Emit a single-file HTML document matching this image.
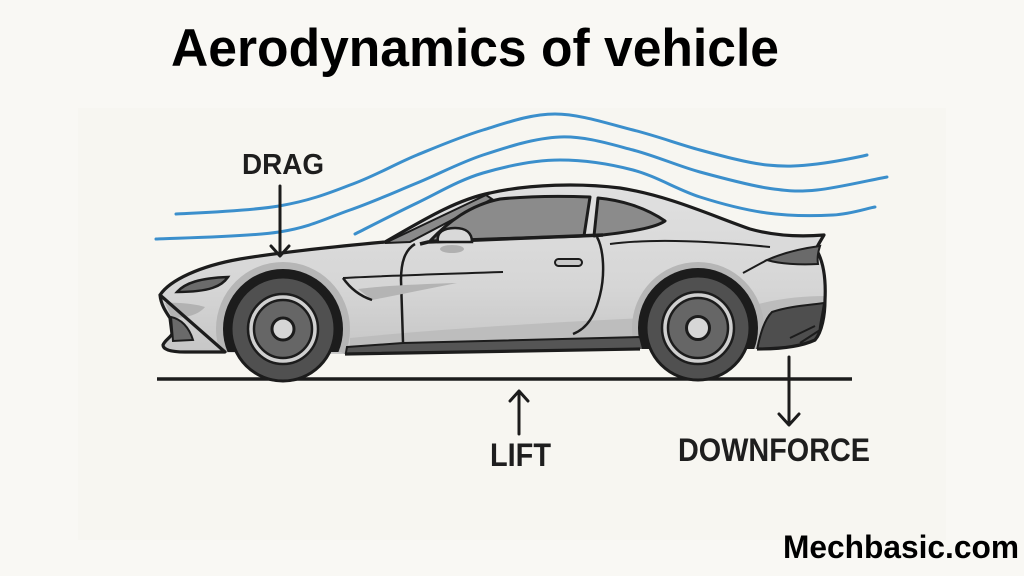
<!DOCTYPE html>
<html>
<head>
<meta charset="utf-8">
<style>
  html, body { margin: 0; padding: 0; }
  body { width: 1024px; height: 576px; background: #f9f8f4; overflow: hidden; }
  svg { display: block; }
</style>
</head>
<body>
<svg width="1024" height="576" viewBox="0 0 1024 576" xmlns="http://www.w3.org/2000/svg">
  <defs>
    <clipPath id="fullclip">
      <path d="M160,295 C170,280 200,266 240,259 C270,254 320,248 385,242 C420,222 455,200 490,193 C530,184 580,183 620,188 C670,196 710,215 750,229 C775,236 800,237 824,235 C821,240 818,245 816,249 C824,262 826,280 825,300 C825,315 822,332 815,340 C800,347 780,349 757,349 L640,349 L345,354 L341,352 L225,352 L185,352 C172,352 163,350 163,345 C165,340 170,338 172,334 L170,318 C166,312 161,305 160,295 Z"/>
    </clipPath>
    <linearGradient id="bodyg" x1="0" y1="0" x2="0" y2="1">
      <stop offset="0" stop-color="#e0e0e0"/>
      <stop offset="0.6" stop-color="#d6d6d6"/>
      <stop offset="1" stop-color="#c6c6c6"/>
    </linearGradient>
  </defs>

  <rect x="0" y="0" width="1024" height="576" fill="#f9f8f4"/>
  <rect x="78" y="108" width="868" height="432" fill="#f7f6f1"/>

  <!-- Title -->
  <text x="171" y="66" font-family="Liberation Sans, sans-serif" font-weight="bold" font-size="53" fill="#000" textLength="608" lengthAdjust="spacingAndGlyphs">Aerodynamics of vehicle</text>

  <!-- Streamlines -->
  <g fill="none" stroke="#3b8fcc" stroke-width="3" stroke-linecap="round">
    <path d="M176,214 C193,213 250,211 279,206 C308,201 327,194 350,185 C373,177 395,164 417,155 C439,146 460,137 483,130 C506,123 530,114 555,114 C580,114 609,124 633,130 C657,136 678,144 700,150 C722,156 748,163 767,165 C787,167 800,166 817,164 C834,162 859,157 867,155"/>
    <path d="M156,239 C176,238 247,237 279,232 C311,227 327,218 350,210 C373,202 395,192 417,183 C439,174 459,163 483,155 C507,147 535,138 560,137 C585,136 610,144 633,150 C656,156 678,166 700,172 C722,178 748,185 767,188 C787,191 797,192 817,190 C837,188 875,179 887,177"/>
    <path d="M355,234 C365,229 396,213 417,203 C438,193 459,180 483,173 C507,166 535,160 560,160 C585,160 610,164 633,170 C656,176 678,190 700,197 C722,204 745,210 767,213 C789,216 815,216 833,215 C851,214 868,208 875,207"/>
  </g>

  <!-- Ground -->
  <line x1="157" y1="379" x2="852" y2="379" stroke="#1c1c1c" stroke-width="3.5"/>

  <!-- Car body -->
  <path d="M160,295 C170,280 200,266 240,259 C270,254 320,248 385,242 C420,222 455,200 490,193 C530,184 580,183 620,188 C670,196 710,215 750,229 C775,236 800,237 824,235 C821,240 818,245 816,249 C824,262 826,280 825,300 C825,315 822,332 815,340 C800,347 780,349 757,349 L640,349 L345,354 L185,352 C172,352 163,350 163,345 C165,340 170,338 172,334 L170,318 C166,312 161,305 160,295 Z" fill="url(#bodyg)"/>

  <g clip-path="url(#fullclip)">
    <!-- lower shading between wheels -->
    <path d="M350,338 C450,328 560,322 645,318 L645,345 L350,350 Z" fill="#bdbdbd"/>
    <!-- rear bumper shading -->
    <path d="M755,305 C780,298 805,296 826,296 L826,345 L755,350 Z" fill="#bcbcbc"/>
    <!-- front lower shade -->
    <path d="M165,303 C180,302 195,304 205,307 C200,313 190,318 172,318 Z" fill="#b2b2b2"/>
    <!-- arch shadows -->
    <circle cx="283" cy="329" r="67" fill="#b6b6b6"/>
    <circle cx="698" cy="328" r="66" fill="#b6b6b6"/>
    <!-- arch black bands -->
    <circle cx="283" cy="329" r="60" fill="#1c1c1c"/>
    <circle cx="698" cy="328" r="60" fill="#1c1c1c"/>
    <!-- side skirt -->
    <path d="M347,347 L403,343 C500,341 580,339 640,337 L645,356 L345,358 Z" fill="#555" stroke="#1c1c1c" stroke-width="2"/>
    <!-- diffuser -->
    <path d="M772,312 C790,306 810,305 824,303 C822,318 818,330 820,338 L800,346 L757,350 C760,335 764,320 772,312 Z" fill="#4e4e4e" stroke="#1c1c1c" stroke-width="2"/>
    <path d="M790,338 L815,326 M800,343 L820,330" stroke="#1c1c1c" stroke-width="2" fill="none"/>
  </g>

  <!-- body outline -->
  <path d="M160,295 C170,280 200,266 240,259 C270,254 320,248 385,242 C420,222 455,200 490,193 C530,184 580,183 620,188 C670,196 710,215 750,229 C775,236 800,237 824,235 C821,240 818,245 816,249 C824,262 826,280 825,300 C825,315 822,332 815,340 C800,347 780,349 757,349 M640,349 L345,354 M225,352 L185,352 C172,352 163,350 163,345 C165,340 170,338 172,334 L170,318 C166,312 161,305 160,295 Z" fill="none" stroke="#1c1c1c" stroke-width="3.2" stroke-linejoin="round"/>

  <!-- grille -->
  <path d="M171,317 C181,319 189,327 193,340 L173,341 Z" fill="#6a6a6a" stroke="#1c1c1c" stroke-width="2"/>
  <!-- headlight -->
  <path d="M177,292 C185,283 200,278 228,277 C222,286 210,292 177,292 Z" fill="#6b6b6b" stroke="#1c1c1c" stroke-width="2.5"/>

  <!-- windshield -->
  <path d="M385,243 L410,242 L492,199 L486,195 Z" fill="#8a8a8a" stroke="#1c1c1c" stroke-width="2"/>
  <!-- front side window -->
  <path d="M430,241 C448,222 470,205 500,199 C530,196 565,196 590,197 L584,236 Z" fill="#8b8b8b" stroke="#1c1c1c" stroke-width="3" stroke-linejoin="round"/>
  <!-- rear quarter window -->
  <path d="M598,198 C620,200 645,207 665,221 C655,228 630,232 594,236 Z" fill="#8b8b8b" stroke="#1c1c1c" stroke-width="3" stroke-linejoin="round"/>
  <!-- belt line -->
  <path d="M420,244 L428,242 L603,235" fill="none" stroke="#1c1c1c" stroke-width="3.5"/>
  <!-- mirror -->
  <ellipse cx="452" cy="249" rx="12" ry="4" fill="#b0b0b0"/>
  <path d="M438,242 C436,232 444,228 455,228 C466,228 472,233 472,242 Z" fill="#d9d9d9" stroke="#1c1c1c" stroke-width="2.5"/>

  <!-- door lines -->
  <path d="M415,244 C405,250 401,262 401,280 L403,342" fill="none" stroke="#1c1c1c" stroke-width="2.5"/>
  <path d="M597,237 C604,250 605,275 600,295 C595,315 588,328 573,334" fill="none" stroke="#1c1c1c" stroke-width="2.5"/>
  <!-- door handle -->
  <rect x="555" y="259" width="27" height="7" rx="3.5" fill="#c9c9c9" stroke="#1c1c1c" stroke-width="2"/>

  <!-- character line and vent -->
  <path d="M343,278 C380,276 440,274 503,272" fill="none" stroke="#1c1c1c" stroke-width="2"/>
  <path d="M358,289 C380,286 420,284 457,283 L372,300 Z" fill="#b4b4b4"/>
  <path d="M343,278 C350,288 360,296 372,300" fill="none" stroke="#1c1c1c" stroke-width="2.5"/>
  <!-- rear haunch line -->
  <path d="M610,244 C640,240 690,239 770,247" fill="none" stroke="#1c1c1c" stroke-width="2"/>
  <!-- tail light -->
  <path d="M767,260 C785,252 805,248 820,246 C818,252 817,258 818,264 C800,265 780,264 767,260 Z" fill="#6a6a6a" stroke="#1c1c1c" stroke-width="2"/>
  <path d="M767,260 L743,273" stroke="#1c1c1c" stroke-width="2" fill="none"/>

  <!-- wheels -->
  <g stroke="#1c1c1c">
    <circle cx="283" cy="329" r="52" fill="#505050" stroke-width="3"/>
    <circle cx="283" cy="329" r="35" fill="#cfcfcf" stroke-width="2.5"/>
    <circle cx="283" cy="329" r="29" fill="#666" stroke-width="2.5"/>
    <circle cx="283" cy="329" r="11" fill="#d6d6d6" stroke-width="3"/>

    <circle cx="698" cy="328" r="52" fill="#505050" stroke-width="3"/>
    <circle cx="698" cy="328" r="36" fill="#cfcfcf" stroke-width="2.5"/>
    <circle cx="698" cy="328" r="30" fill="#666" stroke-width="2.5"/>
    <circle cx="698" cy="328" r="11.5" fill="#d6d6d6" stroke-width="3"/>
  </g>

  <!-- arrows -->
  <g fill="none" stroke="#1c1c1c" stroke-width="3" stroke-linecap="round" stroke-linejoin="round">
    <line x1="280" y1="186" x2="280" y2="255"/>
    <polyline points="271,246 280,256 289,246"/>
    <line x1="519" y1="392" x2="519" y2="434"/>
    <polyline points="510,401 519,391 528,401"/>
    <line x1="789" y1="357" x2="789" y2="424"/>
    <polyline points="779,414 789,425 799,414"/>
  </g>

  <!-- labels -->
  <g font-family="Liberation Sans, sans-serif" font-weight="bold" fill="#1e1e1e">
    <text x="242" y="174" font-size="29" textLength="82" lengthAdjust="spacingAndGlyphs">DRAG</text>
    <text x="490" y="466" font-size="32" textLength="61" lengthAdjust="spacingAndGlyphs">LIFT</text>
    <text x="678" y="461" font-size="32" textLength="192" lengthAdjust="spacingAndGlyphs">DOWNFORCE</text>
  </g>
  <text x="783" y="558" font-family="Liberation Sans, sans-serif" font-weight="bold" font-size="32" fill="#000" textLength="236" lengthAdjust="spacingAndGlyphs">Mechbasic.com</text>
</svg>
</body>
</html>
